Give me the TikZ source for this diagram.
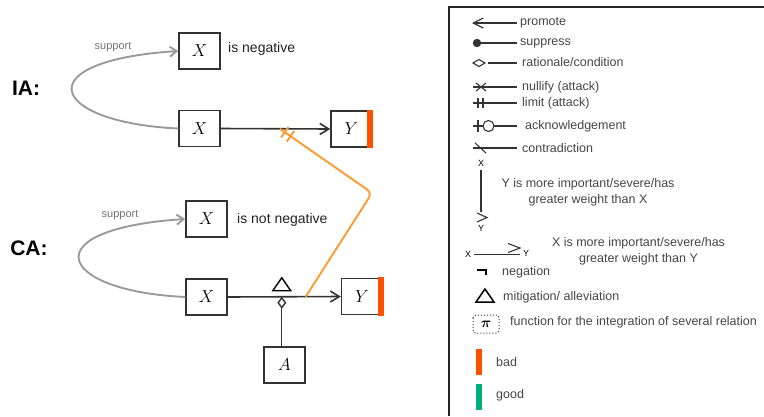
\documentclass[tikz,border=0pt]{standalone}
\usepackage{fontspec}
\setmainfont{Liberation Sans}
\usepackage{bm}
\usetikzlibrary{arrows.meta,calc}
\definecolor{badred}{HTML}{FF5000}
\definecolor{goodgreen}{HTML}{00B07A}
\definecolor{orangeln}{HTML}{FF9A30}
\definecolor{supgray}{HTML}{9A9A9A}
\definecolor{legtext}{HTML}{454545}
\definecolor{boxline}{HTML}{333333}
\begin{document}
\begin{tikzpicture}[x=1pt,y=-1pt,
  box/.style={draw=boxline, line width=1.4pt, minimum width=41pt, minimum height=36pt, inner sep=0pt, font=\fontsize{17.28}{20}\selectfont},
  txt/.style={inner sep=0pt, anchor=west, text=black!87, font=\fontsize{14}{16}\selectfont},
  big/.style={inner sep=0pt, font=\fontsize{21}{24}\selectfont\bfseries},
  suplbl/.style={inner sep=0pt, text=black!55, font=\fontsize{11}{13}\selectfont},
  lbl/.style={inner sep=0pt, anchor=west, text=legtext, font=\fontsize{12.5}{16}\selectfont},
  tiny/.style={inner sep=0pt, text=black, font=\fontsize{9}{10}\selectfont},
  conn/.style={draw=boxline, line width=1.6pt, -{Straight Barb[length=9pt,width=11pt]}},
  sup/.style={draw=supgray, line width=1.9pt, -{Straight Barb[length=7pt,width=10pt]}},
  leg/.style={draw=boxline, line width=1.4pt},
  orng/.style={draw=orangeln, line width=1.9pt}
]
\useasboundingbox (0,0) rectangle (764,416);

% ---------- IA ----------
\node[big] (ia) at (26,88) {IA:};
\node[box] (xneg) at (199.5,51) {$X$};
\node[txt] (isneg) at (228,49) {is negative};
\node[box] (xia) at (199.5,128.5) {$X$};
\node[box] (yia) at (351.5,129) {$Y$};
\fill[badred] ($(yia.north east)+(-5.5,-0.7)$) rectangle ($(yia.south east)+(0.7,0.7)$);
\draw[conn] (xia.east) -- (yia.west);
\draw[sup] (xia.west) .. controls +(-129,-6) and +(-154,10) .. (xneg.west);
\node[suplbl] (s1) at (113,47) {support};

% ---------- CA ----------
\node[big] (ca) at (29,248) {CA:};
\node[box] (xnn) at (206.5,219) {$X$};
\node[txt] (isnn) at (237,219.5) {is not negative};
\node[box] (xca) at (206.5,297) {$X$};
\node[box] (yca) at (362,296.5) {$Y$};
\fill[badred] ($(yca.north east)+(-5.5,-0.7)$) rectangle ($(yca.south east)+(0.7,0.7)$);
\node[box] (a) at (284.5,365) {$A$};
\draw[conn] (xca.east) -- (yca.west);
\draw[sup] (xca.west) .. controls +(-129,-6) and +(-154,10) .. (xnn.west);
\node[suplbl] (s2) at (120,215) {support};

\coordinate (rat) at ($(xca.east)!0.478!(yca.west)$);
\draw[leg, -{Diamond[open,length=12pt,width=9pt]}] (a.north -| rat) -- (rat);
\draw[leg, draw=black, line width=1.4pt] ($(rat)+(-9,-6)$) -- ++(18,0) -- ++(-9,-13) -- cycle;

% ---------- orange limit connector ----------
\coordinate (att) at ($(xia.east)!0.54!(yia.west)$);
\coordinate (bend) at (372,193);
\coordinate (src) at ($(xca.east)!0.69!(yca.west)$);
\draw[orng, rounded corners=6pt] (src) -- (bend) -- (att);
\coordinate (t1) at ($(att)!6pt!(bend)$);
\coordinate (t2) at ($(att)!13pt!(bend)$);
\draw[orng] ($(t1)!6.5pt!90:(bend)$) -- ($(t1)!6.5pt!-90:(bend)$);
\draw[orng] ($(t2)!6.5pt!90:(bend)$) -- ($(t2)!6.5pt!-90:(bend)$);

% ---------- legend ----------
\draw[line width=1.3pt, black!85] (764,7) -- (449,7) -- (449,416);

% promote
\draw[leg, line width=1.2pt, {Straight Barb[length=10pt,width=10pt]}-] (472,23) -- (517,23);
\node[lbl] (lp) at (520,23) {promote};
% suppress
\fill[boxline] (477,43) circle (4.2);
\draw[leg] (478,43) -- (517,43);
\node[lbl] (ls) at (520,43) {suppress};
% rationale
\draw[leg, line width=1.1pt] (473,63) -- (479,59.5) -- (485,63) -- (479,66.5) -- cycle;
\draw[leg] (488,63) -- (517,63);
\node[lbl] (lr) at (522,62) {rationale/condition};
% nullify
\draw[leg] (473,87) -- (517,87);
\draw[leg, line width=1.1pt] (476,83) -- (486,91) (476,91) -- (486,83);
\node[lbl] (ln) at (522,87) {nullify (attack)};
% limit
\draw[leg] (473,103) -- (517,103);
\draw[leg, line width=1.1pt] (478,98) -- (478,108) (483,98) -- (483,108);
\node[lbl] (ll) at (522,103) {limit (attack)};
% acknowledgement
\draw[leg] (473,126) -- (517,126);
\draw[leg, line width=1.1pt] (478,120) -- (478,132);
\draw[leg, line width=1.1pt, fill=white] (488.5,126) circle (5.5);
\node[lbl] (lack) at (525,126) {acknowledgement};
% contradiction
\draw[leg] (473,148) -- (517,148);
\draw[leg, line width=1.1pt] (475,143) -- (486,153);
\node[lbl] (lc) at (522,148) {contradiction};
% vertical weight
\node[tiny] (vx) at (481,163) {X};
\draw[leg, line width=1.1pt] (481,170) -- (481,212);
\draw[leg, line width=1.1pt] (477,213) -- (487,217.5) -- (477,222);
\node[tiny] (vy) at (481,228) {Y};
\node[lbl, anchor=center, align=center] (lv) at (588,192) {Y is more important/severe/has\\greater weight than X};
% horizontal weight
\node[tiny] (hx) at (468,254) {X};
\draw[leg, line width=1.1pt] (474,254.5) -- (520,254.5);
\draw[leg, line width=1.1pt] (508,243.5) -- (520,248) -- (508,252.5);
\node[tiny] (hy) at (526,253.5) {Y};
\node[lbl, anchor=center, align=center] (lh) at (638.5,251) {X is more important/severe/has\\greater weight than Y};
% negation
\draw[leg, draw=black, line width=1.5pt] (477,270) -- (486,270) -- (486,275);
\node[lbl] (lneg) at (502,272) {negation};
% mitigation
\draw[leg, line width=1.5pt, draw=black] (476,302) -- (494,302) -- (485,289) -- cycle;
\node[lbl] (lmit) at (503,297) {mitigation/ alleviation};
% function
\draw[draw=boxline, line width=1pt, dotted, rounded corners=3pt] (473,315) rectangle (499,333);
\node[inner sep=0pt, font=\fontsize{14.4}{16}\selectfont] (pi) at (486,324.5) {$\bm{\pi}$};
\node[lbl] (lf) at (510,322) {function for the integration of several relation};
% bad / good
\fill[badred] (476,349) rectangle (482,375);
\node[lbl] (lbad) at (496,362) {bad};
\fill[goodgreen] (476,384) rectangle (482,410);
\node[lbl] (lgood) at (496,395) {good};
\end{tikzpicture}
\end{document}
